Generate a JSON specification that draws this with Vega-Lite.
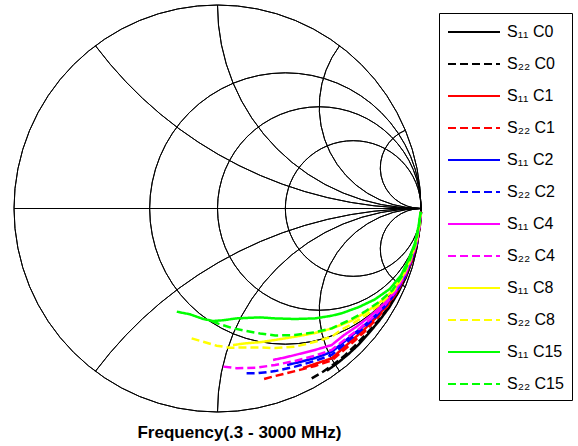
{
  "$schema": "https://vega.github.io/schema/vega-lite/v6.json",
  "width": 407,
  "height": 407,
  "autosize": "none",
  "padding": {"left": 14, "top": 5, "right": 157, "bottom": 34},
  "background": "white",
  "config": {
    "view": {"stroke": null},
    "font": "Liberation Sans",
    "legend": {
      "strokeColor": "black",
      "strokeWidth": 1,
      "padding": 8,
      "symbolType": "M-1,0H4.2",
      "symbolSize": 400,
      "symbolStrokeWidth": 2,
      "labelFontSize": 16,
      "labelFont": "Liberation Sans",
      "labelColor": "black",
      "labelOffset": 38,
      "rowPadding": 13,
      "labelLimit": 200,
      "cornerRadius": 0
    }
  },
  "datasets": {
    "grid": [
      {"x": 0, "y": 0, "rad": 1, "a0": 0, "a1": 360},
      {"x": 0.3333, "y": 0, "rad": 0.6667, "a0": 0, "a1": 360},
      {"x": 0.5, "y": 0, "rad": 0.5, "a0": 0, "a1": 360},
      {"x": 0.6667, "y": 0, "rad": 0.3333, "a0": 0, "a1": 360},
      {"x": 1, "y": 2, "rad": 2, "a0": 180, "a1": 233.13},
      {"x": 1, "y": 1, "rad": 1, "a0": 180, "a1": 270},
      {"x": 1, "y": 0.5, "rad": 0.5, "a0": 180, "a1": 306.87},
      {"x": 1, "y": 0.2, "rad": 0.2, "a0": 180, "a1": 337.38},
      {"x": 1, "y": -2, "rad": 2, "a0": 306.87, "a1": 360},
      {"x": 1, "y": -1, "rad": 1, "a0": 270, "a1": 360},
      {"x": 1, "y": -0.5, "rad": 0.5, "a0": 233.13, "a1": 360},
      {"x": 1, "y": -0.2, "rad": 0.2, "a0": 202.62, "a1": 360}
    ],
    "hline": [
      {"x": -1, "x2": 1, "y": 0}
    ],
    "curves": [
      {"s": "S₁₁ C0", "i": 1, "x": 0.538, "y": -0.797},
      {"s": "S₁₁ C0", "i": 2, "x": 0.592, "y": -0.758},
      {"s": "S₁₁ C0", "i": 3, "x": 0.644, "y": -0.715},
      {"s": "S₁₁ C0", "i": 4, "x": 0.693, "y": -0.669},
      {"s": "S₁₁ C0", "i": 5, "x": 0.738, "y": -0.619},
      {"s": "S₁₁ C0", "i": 6, "x": 0.792, "y": -0.555},
      {"s": "S₁₁ C0", "i": 7, "x": 0.843, "y": -0.487},
      {"s": "S₁₁ C0", "i": 8, "x": 0.887, "y": -0.414},
      {"s": "S₁₁ C0", "i": 9, "x": 0.926, "y": -0.337},
      {"s": "S₁₁ C0", "i": 10, "x": 0.956, "y": -0.256},
      {"s": "S₁₁ C0", "i": 11, "x": 0.98, "y": -0.173},
      {"s": "S₁₁ C0", "i": 12, "x": 0.994, "y": -0.087},
      {"s": "S₁₁ C0", "i": 13, "x": 1.0, "y": -0.017},

      {"s": "S₂₂ C0", "i": 1, "x": 0.463, "y": -0.835},
      {"s": "S₂₂ C0", "i": 2, "x": 0.52, "y": -0.801},
      {"s": "S₂₂ C0", "i": 3, "x": 0.575, "y": -0.763},
      {"s": "S₂₂ C0", "i": 4, "x": 0.627, "y": -0.721},
      {"s": "S₂₂ C0", "i": 5, "x": 0.675, "y": -0.675},
      {"s": "S₂₂ C0", "i": 6, "x": 0.733, "y": -0.615},
      {"s": "S₂₂ C0", "i": 7, "x": 0.789, "y": -0.552},
      {"s": "S₂₂ C0", "i": 8, "x": 0.84, "y": -0.485},
      {"s": "S₂₂ C0", "i": 9, "x": 0.886, "y": -0.413},
      {"s": "S₂₂ C0", "i": 10, "x": 0.925, "y": -0.337},
      {"s": "S₂₂ C0", "i": 11, "x": 0.955, "y": -0.256},
      {"s": "S₂₂ C0", "i": 12, "x": 0.98, "y": -0.173},
      {"s": "S₂₂ C0", "i": 13, "x": 0.994, "y": -0.087},
      {"s": "S₂₂ C0", "i": 14, "x": 1.0, "y": -0.017},

      {"s": "S₁₁ C1", "i": 1, "x": 0.42, "y": -0.784},
      {"s": "S₁₁ C1", "i": 2, "x": 0.479, "y": -0.764},
      {"s": "S₁₁ C1", "i": 3, "x": 0.561, "y": -0.736},
      {"s": "S₁₁ C1", "i": 4, "x": 0.654, "y": -0.654},
      {"s": "S₁₁ C1", "i": 5, "x": 0.715, "y": -0.6},
      {"s": "S₁₁ C1", "i": 6, "x": 0.774, "y": -0.542},
      {"s": "S₁₁ C1", "i": 7, "x": 0.83, "y": -0.479},
      {"s": "S₁₁ C1", "i": 8, "x": 0.88, "y": -0.41},
      {"s": "S₁₁ C1", "i": 9, "x": 0.921, "y": -0.335},
      {"s": "S₁₁ C1", "i": 10, "x": 0.953, "y": -0.255},
      {"s": "S₁₁ C1", "i": 11, "x": 0.978, "y": -0.172},
      {"s": "S₁₁ C1", "i": 12, "x": 0.993, "y": -0.087},
      {"s": "S₁₁ C1", "i": 13, "x": 1.0, "y": -0.017},

      {"s": "S₂₂ C1", "i": 1, "x": 0.229, "y": -0.838},
      {"s": "S₂₂ C1", "i": 2, "x": 0.283, "y": -0.823},
      {"s": "S₂₂ C1", "i": 3, "x": 0.381, "y": -0.799},
      {"s": "S₂₂ C1", "i": 4, "x": 0.479, "y": -0.774},
      {"s": "S₂₂ C1", "i": 5, "x": 0.561, "y": -0.747},
      {"s": "S₂₂ C1", "i": 6, "x": 0.661, "y": -0.661},
      {"s": "S₂₂ C1", "i": 7, "x": 0.722, "y": -0.606},
      {"s": "S₂₂ C1", "i": 8, "x": 0.779, "y": -0.545},
      {"s": "S₂₂ C1", "i": 9, "x": 0.834, "y": -0.481},
      {"s": "S₂₂ C1", "i": 10, "x": 0.882, "y": -0.411},
      {"s": "S₂₂ C1", "i": 11, "x": 0.922, "y": -0.335},
      {"s": "S₂₂ C1", "i": 12, "x": 0.954, "y": -0.256},
      {"s": "S₂₂ C1", "i": 13, "x": 0.979, "y": -0.173},
      {"s": "S₂₂ C1", "i": 14, "x": 0.993, "y": -0.087},
      {"s": "S₂₂ C1", "i": 15, "x": 1.0, "y": -0.017},

      {"s": "S₁₁ C2", "i": 1, "x": 0.342, "y": -0.769},
      {"s": "S₁₁ C2", "i": 2, "x": 0.405, "y": -0.754},
      {"s": "S₁₁ C2", "i": 3, "x": 0.479, "y": -0.735},
      {"s": "S₁₁ C2", "i": 4, "x": 0.561, "y": -0.705},
      {"s": "S₁₁ C2", "i": 5, "x": 0.64, "y": -0.64},
      {"s": "S₁₁ C2", "i": 6, "x": 0.703, "y": -0.59},
      {"s": "S₁₁ C2", "i": 7, "x": 0.765, "y": -0.536},
      {"s": "S₁₁ C2", "i": 8, "x": 0.824, "y": -0.476},
      {"s": "S₁₁ C2", "i": 9, "x": 0.876, "y": -0.409},
      {"s": "S₁₁ C2", "i": 10, "x": 0.919, "y": -0.334},
      {"s": "S₁₁ C2", "i": 11, "x": 0.951, "y": -0.255},
      {"s": "S₁₁ C2", "i": 12, "x": 0.977, "y": -0.172},
      {"s": "S₁₁ C2", "i": 13, "x": 0.992, "y": -0.087},
      {"s": "S₁₁ C2", "i": 14, "x": 0.999, "y": -0.017},

      {"s": "S₂₂ C2", "i": 1, "x": 0.143, "y": -0.81},
      {"s": "S₂₂ C2", "i": 2, "x": 0.193, "y": -0.81},
      {"s": "S₂₂ C2", "i": 3, "x": 0.283, "y": -0.799},
      {"s": "S₂₂ C2", "i": 4, "x": 0.381, "y": -0.777},
      {"s": "S₂₂ C2", "i": 5, "x": 0.479, "y": -0.749},
      {"s": "S₂₂ C2", "i": 6, "x": 0.561, "y": -0.72},
      {"s": "S₂₂ C2", "i": 7, "x": 0.647, "y": -0.647},
      {"s": "S₂₂ C2", "i": 8, "x": 0.709, "y": -0.595},
      {"s": "S₂₂ C2", "i": 9, "x": 0.77, "y": -0.539},
      {"s": "S₂₂ C2", "i": 10, "x": 0.827, "y": -0.478},
      {"s": "S₂₂ C2", "i": 11, "x": 0.878, "y": -0.41},
      {"s": "S₂₂ C2", "i": 12, "x": 0.92, "y": -0.335},
      {"s": "S₂₂ C2", "i": 13, "x": 0.952, "y": -0.255},
      {"s": "S₂₂ C2", "i": 14, "x": 0.978, "y": -0.172},
      {"s": "S₂₂ C2", "i": 15, "x": 0.992, "y": -0.087},
      {"s": "S₂₂ C2", "i": 16, "x": 0.999, "y": -0.017},

      {"s": "S₁₁ C4", "i": 1, "x": 0.273, "y": -0.744},
      {"s": "S₁₁ C4", "i": 2, "x": 0.332, "y": -0.732},
      {"s": "S₁₁ C4", "i": 3, "x": 0.381, "y": -0.72},
      {"s": "S₁₁ C4", "i": 4, "x": 0.479, "y": -0.695},
      {"s": "S₁₁ C4", "i": 5, "x": 0.561, "y": -0.671},
      {"s": "S₁₁ C4", "i": 6, "x": 0.622, "y": -0.622},
      {"s": "S₁₁ C4", "i": 7, "x": 0.688, "y": -0.577},
      {"s": "S₁₁ C4", "i": 8, "x": 0.753, "y": -0.527},
      {"s": "S₁₁ C4", "i": 9, "x": 0.815, "y": -0.471},
      {"s": "S₁₁ C4", "i": 10, "x": 0.872, "y": -0.407},
      {"s": "S₁₁ C4", "i": 11, "x": 0.915, "y": -0.333},
      {"s": "S₁₁ C4", "i": 12, "x": 0.949, "y": -0.254},
      {"s": "S₁₁ C4", "i": 13, "x": 0.976, "y": -0.172},
      {"s": "S₁₁ C4", "i": 14, "x": 0.992, "y": -0.087},
      {"s": "S₁₁ C4", "i": 15, "x": 0.999, "y": -0.017},

      {"s": "S₂₂ C4", "i": 1, "x": 0.029, "y": -0.777},
      {"s": "S₂₂ C4", "i": 2, "x": 0.094, "y": -0.785},
      {"s": "S₂₂ C4", "i": 3, "x": 0.193, "y": -0.782},
      {"s": "S₂₂ C4", "i": 4, "x": 0.283, "y": -0.769},
      {"s": "S₂₂ C4", "i": 5, "x": 0.381, "y": -0.749},
      {"s": "S₂₂ C4", "i": 6, "x": 0.479, "y": -0.723},
      {"s": "S₂₂ C4", "i": 7, "x": 0.561, "y": -0.695},
      {"s": "S₂₂ C4", "i": 8, "x": 0.636, "y": -0.636},
      {"s": "S₂₂ C4", "i": 9, "x": 0.7, "y": -0.588},
      {"s": "S₂₂ C4", "i": 10, "x": 0.763, "y": -0.534},
      {"s": "S₂₂ C4", "i": 11, "x": 0.822, "y": -0.475},
      {"s": "S₂₂ C4", "i": 12, "x": 0.875, "y": -0.408},
      {"s": "S₂₂ C4", "i": 13, "x": 0.918, "y": -0.334},
      {"s": "S₂₂ C4", "i": 14, "x": 0.951, "y": -0.255},
      {"s": "S₂₂ C4", "i": 15, "x": 0.977, "y": -0.172},
      {"s": "S₂₂ C4", "i": 16, "x": 0.992, "y": -0.087},
      {"s": "S₂₂ C4", "i": 17, "x": 0.999, "y": -0.017},

      {"s": "S₁₁ C8", "i": 1, "x": 0.076, "y": -0.671},
      {"s": "S₁₁ C8", "i": 2, "x": 0.135, "y": -0.663},
      {"s": "S₁₁ C8", "i": 3, "x": 0.209, "y": -0.657},
      {"s": "S₁₁ C8", "i": 4, "x": 0.283, "y": -0.646},
      {"s": "S₁₁ C8", "i": 5, "x": 0.381, "y": -0.63},
      {"s": "S₁₁ C8", "i": 6, "x": 0.479, "y": -0.612},
      {"s": "S₁₁ C8", "i": 7, "x": 0.561, "y": -0.59},
      {"s": "S₁₁ C8", "i": 8, "x": 0.658, "y": -0.552},
      {"s": "S₁₁ C8", "i": 9, "x": 0.729, "y": -0.51},
      {"s": "S₁₁ C8", "i": 10, "x": 0.798, "y": -0.461},
      {"s": "S₁₁ C8", "i": 11, "x": 0.862, "y": -0.402},
      {"s": "S₁₁ C8", "i": 12, "x": 0.91, "y": -0.331},
      {"s": "S₁₁ C8", "i": 13, "x": 0.946, "y": -0.253},
      {"s": "S₁₁ C8", "i": 14, "x": 0.974, "y": -0.172},
      {"s": "S₁₁ C8", "i": 15, "x": 0.99, "y": -0.087},
      {"s": "S₁₁ C8", "i": 16, "x": 0.999, "y": -0.017},

      {"s": "S₂₂ C8", "i": 1, "x": -0.127, "y": -0.638},
      {"s": "S₂₂ C8", "i": 2, "x": -0.07, "y": -0.655},
      {"s": "S₂₂ C8", "i": 3, "x": -0.004, "y": -0.674},
      {"s": "S₂₂ C8", "i": 4, "x": 0.061, "y": -0.684},
      {"s": "S₂₂ C8", "i": 5, "x": 0.143, "y": -0.683},
      {"s": "S₂₂ C8", "i": 6, "x": 0.209, "y": -0.683},
      {"s": "S₂₂ C8", "i": 7, "x": 0.283, "y": -0.686},
      {"s": "S₂₂ C8", "i": 8, "x": 0.381, "y": -0.679},
      {"s": "S₂₂ C8", "i": 9, "x": 0.479, "y": -0.655},
      {"s": "S₂₂ C8", "i": 10, "x": 0.561, "y": -0.63},
      {"s": "S₂₂ C8", "i": 11, "x": 0.601, "y": -0.601},
      {"s": "S₂₂ C8", "i": 12, "x": 0.67, "y": -0.562},
      {"s": "S₂₂ C8", "i": 13, "x": 0.739, "y": -0.517},
      {"s": "S₂₂ C8", "i": 14, "x": 0.805, "y": -0.465},
      {"s": "S₂₂ C8", "i": 15, "x": 0.866, "y": -0.404},
      {"s": "S₂₂ C8", "i": 16, "x": 0.912, "y": -0.332},
      {"s": "S₂₂ C8", "i": 17, "x": 0.947, "y": -0.254},
      {"s": "S₂₂ C8", "i": 18, "x": 0.975, "y": -0.172},
      {"s": "S₂₂ C8", "i": 19, "x": 0.991, "y": -0.087},
      {"s": "S₂₂ C8", "i": 20, "x": 0.999, "y": -0.017},

      {"s": "S₁₁ C15", "i": 1, "x": -0.2, "y": -0.507},
      {"s": "S₁₁ C15", "i": 2, "x": -0.135, "y": -0.52},
      {"s": "S₁₁ C15", "i": 3, "x": -0.07, "y": -0.543},
      {"s": "S₁₁ C15", "i": 4, "x": -0.021, "y": -0.553},
      {"s": "S₁₁ C15", "i": 5, "x": 0.029, "y": -0.549},
      {"s": "S₁₁ C15", "i": 6, "x": 0.094, "y": -0.54},
      {"s": "S₁₁ C15", "i": 7, "x": 0.16, "y": -0.537},
      {"s": "S₁₁ C15", "i": 8, "x": 0.209, "y": -0.535},
      {"s": "S₁₁ C15", "i": 9, "x": 0.283, "y": -0.54},
      {"s": "S₁₁ C15", "i": 10, "x": 0.381, "y": -0.543},
      {"s": "S₁₁ C15", "i": 11, "x": 0.479, "y": -0.54},
      {"s": "S₁₁ C15", "i": 12, "x": 0.561, "y": -0.527},
      {"s": "S₁₁ C15", "i": 13, "x": 0.613, "y": -0.514},
      {"s": "S₁₁ C15", "i": 14, "x": 0.693, "y": -0.485},
      {"s": "S₁₁ C15", "i": 15, "x": 0.773, "y": -0.447},
      {"s": "S₁₁ C15", "i": 16, "x": 0.847, "y": -0.395},
      {"s": "S₁₁ C15", "i": 17, "x": 0.902, "y": -0.328},
      {"s": "S₁₁ C15", "i": 18, "x": 0.939, "y": -0.252},
      {"s": "S₁₁ C15", "i": 19, "x": 0.97, "y": -0.171},
      {"s": "S₁₁ C15", "i": 20, "x": 0.988, "y": -0.087},
      {"s": "S₁₁ C15", "i": 21, "x": 0.998, "y": -0.017},

      {"s": "S₂₂ C15", "i": 1, "x": -0.027, "y": -0.553},
      {"s": "S₂₂ C15", "i": 2, "x": 0.012, "y": -0.569},
      {"s": "S₂₂ C15", "i": 3, "x": 0.078, "y": -0.589},
      {"s": "S₂₂ C15", "i": 4, "x": 0.143, "y": -0.602},
      {"s": "S₂₂ C15", "i": 5, "x": 0.209, "y": -0.614},
      {"s": "S₂₂ C15", "i": 6, "x": 0.283, "y": -0.624},
      {"s": "S₂₂ C15", "i": 7, "x": 0.381, "y": -0.622},
      {"s": "S₂₂ C15", "i": 8, "x": 0.479, "y": -0.608},
      {"s": "S₂₂ C15", "i": 9, "x": 0.561, "y": -0.589},
      {"s": "S₂₂ C15", "i": 10, "x": 0.652, "y": -0.547},
      {"s": "S₂₂ C15", "i": 11, "x": 0.724, "y": -0.507},
      {"s": "S₂₂ C15", "i": 12, "x": 0.795, "y": -0.459},
      {"s": "S₂₂ C15", "i": 13, "x": 0.86, "y": -0.401},
      {"s": "S₂₂ C15", "i": 14, "x": 0.908, "y": -0.33},
      {"s": "S₂₂ C15", "i": 15, "x": 0.945, "y": -0.253},
      {"s": "S₂₂ C15", "i": 16, "x": 0.973, "y": -0.172},
      {"s": "S₂₂ C15", "i": 17, "x": 0.99, "y": -0.087},
      {"s": "S₂₂ C15", "i": 18, "x": 0.999, "y": -0.017}
    ]
  },
  "encoding": {
    "x": {
      "field": "x",
      "type": "quantitative",
      "scale": {"domain": [-1, 1], "nice": false, "zero": false},
      "axis": {
        "title": "Frequency(.3 - 3000 MHz)",
        "labels": false,
        "ticks": false,
        "domain": false,
        "grid": false,
        "titleFont": "Liberation Sans",
        "titleFontSize": 17,
        "titleFontWeight": "bold",
        "titleColor": "black",
        "titlePadding": 12,
        "titleX": 225
      }
    },
    "y": {
      "field": "y",
      "type": "quantitative",
      "scale": {"domain": [-1, 1], "nice": false, "zero": false},
      "axis": null
    }
  },
  "layer": [
    {
      "data": {"name": "grid"},
      "mark": {"type": "arc", "filled": false, "color": "black", "strokeWidth": 1},
      "encoding": {
        "theta": {"field": "a0", "type": "quantitative", "stack": null, "scale": {"domain": [0, 360], "range": [0, 6.283185307]}},
        "theta2": {"field": "a1"},
        "radius": {"field": "rad", "type": "quantitative", "scale": {"type": "linear", "domain": [0, 1], "range": [0, 203.5], "zero": true}},
        "radius2": {"field": "rad"}
      }
    },
    {
      "data": {"name": "hline"},
      "mark": {"type": "rule", "color": "black", "strokeWidth": 1},
      "encoding": {"x2": {"field": "x2"}}
    },
    {
      "data": {"name": "curves"},
      "mark": {"type": "line", "strokeWidth": 2.5},
      "encoding": {
        "order": {"field": "i", "type": "quantitative"},
        "color": {
          "field": "s",
          "type": "nominal",
          "scale": {
            "domain": ["S₁₁ C0", "S₂₂ C0", "S₁₁ C1", "S₂₂ C1", "S₁₁ C2", "S₂₂ C2", "S₁₁ C4", "S₂₂ C4", "S₁₁ C8", "S₂₂ C8", "S₁₁ C15", "S₂₂ C15"],
            "range": ["#000000", "#000000", "#ff0000", "#ff0000", "#0000ff", "#0000ff", "#ff00ff", "#ff00ff", "#ffff00", "#ffff00", "#00ff00", "#00ff00"]
          },
          "legend": {"title": null, "orient": "none", "legendX": 425, "legendY": 8, "symbolType": "M-1,0H4.2"}
        },
        "strokeDash": {
          "field": "s",
          "type": "nominal",
          "scale": {
            "domain": ["S₁₁ C0", "S₂₂ C0", "S₁₁ C1", "S₂₂ C1", "S₁₁ C2", "S₂₂ C2", "S₁₁ C4", "S₂₂ C4", "S₁₁ C8", "S₂₂ C8", "S₁₁ C15", "S₂₂ C15"],
            "range": [[1, 0], [8, 4], [1, 0], [8, 4], [1, 0], [8, 4], [1, 0], [8, 4], [1, 0], [8, 4], [1, 0], [8, 4]]
          },
          "legend": {"title": null, "orient": "none", "legendX": 425, "legendY": 8, "symbolType": "M-1,0H4.2", "symbolDash": [7, 4]}
        }
      }
    }
  ]
}
